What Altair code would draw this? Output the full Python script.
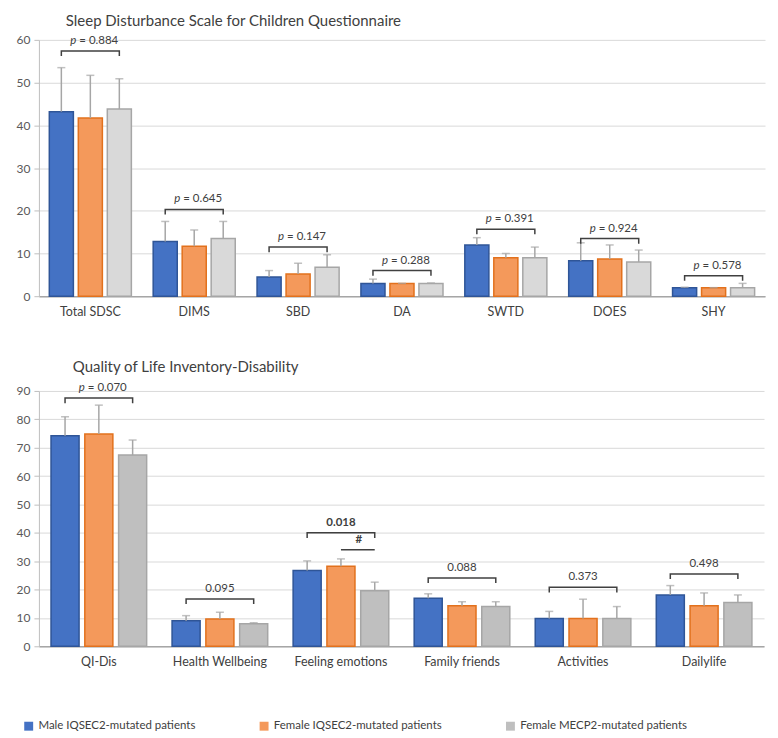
import altair as alt
import pandas as pd

FONT = "Lato"

groups = ["Male IQSEC2-mutated patients", "Female IQSEC2-mutated patients", "Female  MECP2-mutated patients"]

# Top panel: Sleep Disturbance Scale for Children
top_cats = ["Total SDSC", "DIMS", "SBD", "DA", "SWTD", "DOES", "SHY"]
top_male = [43.2, 12.8, 4.5, 3.0, 12.0, 8.3, 2.0]
top_male_err = [53.5, 17.5, 6.0, 4.0, 13.7, 12.5, 2.1]
top_fem = [41.7, 11.7, 5.2, 3.0, 9.0, 8.7, 2.0]
top_fem_err = [51.7, 15.5, 7.7, 3.0, 10.0, 12.0, 2.0]
top_mecp2 = [43.8, 13.5, 6.8, 3.0, 9.0, 8.0, 2.0]
top_mecp2_err = [50.9, 17.5, 9.7, 3.1, 11.5, 10.8, 3.0]
top_bracket = [57.4, 20.3, 11.5, 6.0, 15.7, 13.5, 4.8]
top_pvals = ["= 0.884", "= 0.645", "= 0.147", "= 0.288", "= 0.391", "= 0.924", "= 0.578"]
top_italic_p = ["p", "p", "p", "p", "p", "p", "p"]
top_bold = [False] * 7

# Bottom panel: Quality of Life Inventory-Disability
bot_cats = ["QI-Dis", "Health Wellbeing", "Feeling emotions", "Family friends", "Activities", "Dailylife"]
bot_male = [74.2, 9.0, 26.7, 16.9, 9.8, 18.1]
bot_male_err = [80.9, 10.8, 30.1, 18.5, 12.3, 21.4]
bot_fem = [74.8, 9.6, 28.2, 14.3, 9.8, 14.3]
bot_fem_err = [85.0, 12.0, 30.8, 15.7, 16.6, 18.8]
bot_mecp2 = [67.4, 7.9, 19.6, 14.0, 9.8, 15.4]
bot_mecp2_err = [72.7, 8.3, 22.6, 15.7, 14.0, 18.1]
bot_bracket = [87.5, 16.7, 40.0, 24.1, 20.8, 25.5]
bot_pvals = ["= 0.070", "0.095", "0.018", "0.088", "0.373", "0.498"]
bot_italic_p = ["p", "", "", "", "", ""]
bot_bold = [False, False, True, False, False, False]
hash_cat = "Feeling emotions"
hash_y = 34.0

fill_top = ["#4472C4", "#F4995B", "#D9D9D9"]
fill_bot = ["#4472C4", "#F4995B", "#BFBFBF"]
stroke_cols = ["#2F5597", "#E2711D", "#A6A6A6"]


def panel(cats, vals, errs, brackets, pvals, ital, bold, ymax, step, title, title_dx,
          title_offset, w, h, fills, legend, extra=None):
    rows = []
    for i, c in enumerate(cats):
        for g, v, e in zip(groups, [vals[0][i], vals[1][i], vals[2][i]],
                           [errs[0][i], errs[1][i], errs[2][i]]):
            rows.append({"cat": c, "group": g, "value": v, "err": e})
    df = pd.DataFrame(rows)

    drop = ymax * 0.02
    brows = []
    for i, c in enumerate(cats):
        pts = [(groups[0], brackets[i] - drop), (groups[0], brackets[i]),
               (groups[2], brackets[i]), (groups[2], brackets[i] - drop)]
        for k, (g, y) in enumerate(pts):
            brows.append({"cat": c, "group": g, "y": y, "ord": k})
    bdf = pd.DataFrame(brows)

    ldf = pd.DataFrame({"cat": cats, "y": brackets, "label": pvals, "p": ital, "bold": bold})

    xenc = alt.X("cat:N", sort=cats,
                 scale=alt.Scale(domain=cats, paddingInner=0.21, paddingOuter=0.1),
                 axis=alt.Axis(title=None, labelAngle=0, ticks=False, labelPadding=9,
                               labelFontSize=12.5, labelColor="#404040", labelFont=FONT,
                               domainColor="#A6A6A6", domainWidth=1.5, grid=False))
    xoff = alt.XOffset("group:N", sort=groups,
                       scale=alt.Scale(domain=groups, paddingInner=0.17, paddingOuter=0))
    yscale = alt.Scale(domain=[0, ymax], nice=False)
    yaxis = alt.Axis(title=None, values=list(range(0, ymax + 1, step)), grid=True,
                     gridColor="#D9D9D9", gridWidth=1, domainColor="#BFBFBF",
                     tickColor="#BFBFBF", tickSize=5, labelColor="#595959",
                     labelFontSize=12, labelFont=FONT, labelPadding=4, labelOverlap=False)

    def Y(field):
        return alt.Y(field, scale=yscale, axis=yaxis)

    if legend:
        leg = alt.Legend(title=None, orient="none", legendX=-16, legendY=330,
                         direction="horizontal", symbolType="square", symbolSize=80,
                         symbolStrokeWidth=0, columnPadding=62, labelFontSize=11.5,
                         labelLimit=400, labelFont=FONT, labelColor="#404040")
    else:
        leg = None

    bars = alt.Chart(df).mark_bar(strokeWidth=1.5).encode(
        x=xenc, xOffset=xoff,
        y=Y("value:Q"),
        color=alt.Color("group:N", sort=groups, scale=alt.Scale(domain=groups, range=fills), legend=leg),
        stroke=alt.Stroke("group:N", sort=groups, scale=alt.Scale(domain=groups, range=stroke_cols), legend=None),
    )
    rule = alt.Chart(df).mark_rule(color="#A6A6A6", strokeWidth=1.5).encode(
        x=xenc, xOffset=xoff, y=Y("value:Q"), y2="err:Q")
    cap = alt.Chart(df).mark_tick(color="#A6A6A6", thickness=1.5, size=8).encode(
        x=xenc, xOffset=xoff, y=Y("err:Q"))
    brk = alt.Chart(bdf).mark_line(color="#404040", strokeWidth=1.5).encode(
        x=xenc, xOffset=xoff, y=Y("y:Q"), detail="cat:N", order="ord:Q")

    layers = [bars, rule, cap, brk]

    plain = ldf[(ldf["p"] == "") & (~ldf["bold"])]
    boldd = ldf[(ldf["p"] == "") & (ldf["bold"])]
    withp = ldf[ldf["p"] != ""]
    if len(plain):
        layers.append(alt.Chart(plain).mark_text(
            baseline="bottom", dy=-5, fontSize=11.5, font=FONT, color="#404040").encode(
            x=xenc, y=Y("y:Q"), text="label:N"))
    if len(boldd):
        layers.append(alt.Chart(boldd).mark_text(
            baseline="bottom", dy=-5, fontSize=11.5, font=FONT, fontWeight="bold",
            color="#404040").encode(
            x=xenc, y=Y("y:Q"), text="label:N"))
    if len(withp):
        layers.append(alt.Chart(withp).mark_text(
            baseline="bottom", dy=-5, align="left", dx=-11, fontSize=11.5, font=FONT,
            color="#404040").encode(
            x=xenc, y=Y("y:Q"), text="label:N"))
        layers.append(alt.Chart(withp).mark_text(
            baseline="bottom", dy=-5, align="right", dx=-14, fontSize=11.5, font=FONT,
            fontStyle="italic", color="#404040").encode(
            x=xenc, y=Y("y:Q"), text="p:N"))

    if extra is not None:
        hdf = pd.DataFrame({"cat": [extra[0], extra[0]], "group": [groups[1], groups[2]],
                            "y": [extra[1], extra[1]], "ord": [0, 1], "t": ["#", "#"]})
        hline = alt.Chart(hdf).mark_line(color="#404040", strokeWidth=1.5).encode(
            x=xenc, xOffset=xoff, y=Y("y:Q"), order="ord:Q")
        htext = alt.Chart(hdf.iloc[[1]]).mark_text(
            baseline="bottom", dy=-5, dx=-16, fontSize=11.5, font=FONT, fontWeight="bold",
            color="#404040").encode(
            x=xenc, xOffset=xoff, y=Y("y:Q"), text="t:N")
        layers += [hline, htext]

    return alt.layer(*layers).properties(
        width=w, height=h,
        title=alt.TitleParams(title, anchor="start", frame="group", dx=title_dx, fontSize=15,
                              font=FONT, fontWeight="normal", color="#404040", offset=title_offset),
    )


top = panel(top_cats, [top_male, top_fem, top_mecp2], [top_male_err, top_fem_err, top_mecp2_err],
            top_bracket, top_pvals, top_italic_p, top_bold, 60, 10,
            "Sleep Disturbance Scale for Children Questionnaire", 27, 5, 728, 257, fill_top, False)
bot = panel(bot_cats, [bot_male, bot_fem, bot_mecp2], [bot_male_err, bot_fem_err, bot_mecp2_err],
            bot_bracket, bot_pvals, bot_italic_p, bot_bold, 90, 10,
            "Quality of Life Inventory-Disability", 34, 7, 727, 256, fill_bot, True,
            extra=(hash_cat, hash_y))

chart = alt.vconcat(top, bot, spacing=42).resolve_scale(
    color="independent", stroke="independent", x="independent", xOffset="independent", y="independent"
).configure_view(stroke=None).properties(padding={"left": 8, "top": 5, "right": 5, "bottom": 5})

chart.save("out.html", embed_options={"renderer": "svg", "actions": False})
